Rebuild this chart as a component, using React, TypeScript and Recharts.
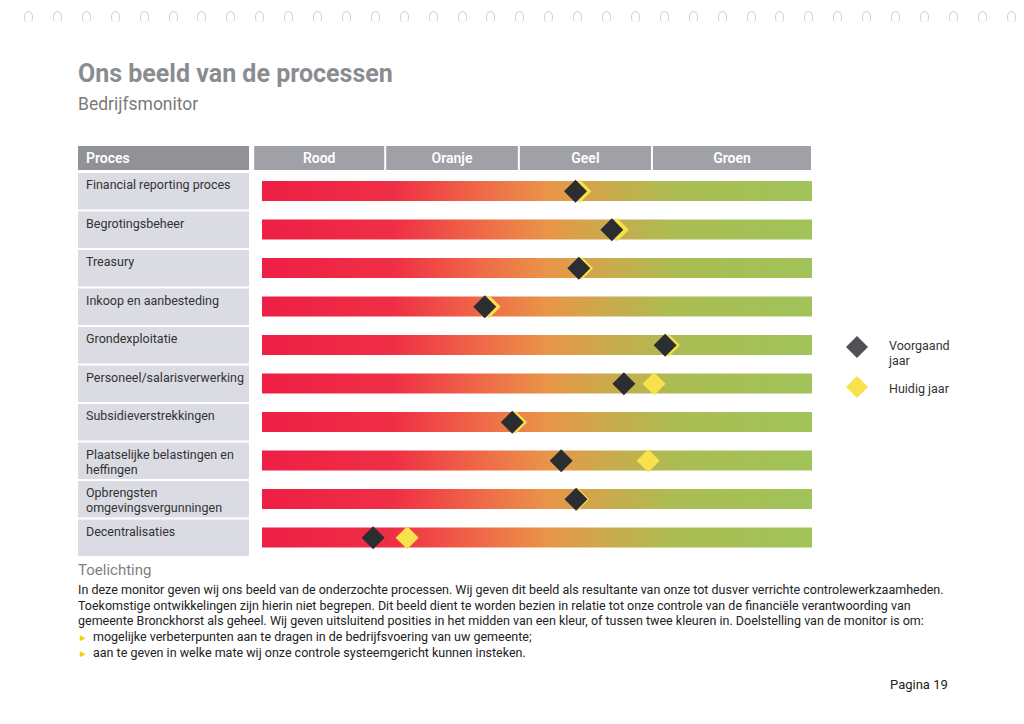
import React from 'react';
import { ComposedChart, Bar, Line, XAxis, YAxis } from 'recharts';

// processen (rijen) en posities op de schaal 0-100
const processen = [
  'Financial reporting proces',
  'Begrotingsbeheer',
  'Treasury',
  'Inkoop en aanbesteding',
  'Grondexploitatie',
  'Personeel/salarisverwerking',
  'Subsidieverstrekkingen',
  'Plaatselijke belastingen en\nheffingen',
  'Opbrengsten\nomgevingsvergunningen',
  'Decentralisaties',
];
const voorgaandJaar = [57, 63.6, 57.6, 40.5, 73.3, 65.8, 45.5, 54.4, 57.1, 20.2];
const huidigJaar = [57.8, 64.6, 58.1, 41.3, 73.9, 71.3, 46.1, 70.2, 57.4, 26.4];
const kleuren = ['Rood', 'Oranje', 'Geel', 'Groen'];
const kleurGrenzen = [-1.6, 22.4, 46.7, 70.9, 100];
const SCHAAL_MAX = 100;

const data = processen.map((proces, i) => ({
  proces,
  bereik: SCHAAL_MAX,
  voorgaand: voorgaandJaar[i],
  huidig: huidigJaar[i],
}));

const kopTicks = kleuren.map((_, i) => (kleurGrenzen[i] + kleurGrenzen[i + 1]) / 2);

const PLOT_W = 550;
const PX = PLOT_W / SCHAAL_MAX;
const ROW_H = 38.5;
const GEEL = '#f8e24b';
const DONKER = '#2c2d31';
const KOP_GRIJS = '#a0a1a7';

const Ruit = ({ cx, cy, fill, r = 11.5 }: any) => {
  if (cx == null || cy == null) return null;
  return (
    <path
      d={`M${cx},${cy - r} L${cx + r},${cy} L${cx},${cy + r} L${cx - r},${cy} Z`}
      fill={fill}
    />
  );
};

const KopTick = ({ x, payload }: any) => {
  const i = kopTicks.indexOf(payload.value);
  const w = (kleurGrenzen[i + 1] - kleurGrenzen[i]) * PX - 2;
  return (
    <g>
      <rect x={x - w / 2} y={3} width={w} height={24} fill={KOP_GRIJS} />
      <text x={x} y={20} textAnchor="middle" fill="#fff" fontSize={14} fontWeight={600}>
        {kleuren[i]}
      </text>
    </g>
  );
};

const ProcesTick = ({ y, payload }: any) => {
  const top = y - ROW_H / 2 + 1;
  const regels = String(payload.value).split('\n');
  return (
    <g>
      <rect x={8} y={top} width={171} height={ROW_H - 2} fill="#dadbe3" />
      {regels.map((r, k) => (
        <text key={k} x={16} y={top + 16 + k * 15} fill="#333" fontSize={12.5}>
          {r}
        </text>
      ))}
    </g>
  );
};

const ProcesKop = ({ viewBox }: any) => (
  <g>
    <rect x={8} y={viewBox.y - 26} width={171} height={24} fill="#909298" />
    <text x={16} y={viewBox.y - 9} fill="#fff" fontSize={14} fontWeight={600}>
      Proces
    </text>
  </g>
);

export default function App() {
  const gaten = Array.from({ length: 35 });
  return (
    <div
      style={{
        position: 'absolute',
        left: 0,
        top: 0,
        width: 1024,
        height: 724,
        background: '#fff',
        overflow: 'hidden',
        fontFamily: 'Roboto, "Liberation Sans", sans-serif',
      }}
    >
      {gaten.map((_, i) => (
        <div
          key={i}
          style={{
            position: 'absolute',
            left: 24 + i * 28.9,
            top: 11,
            width: 7,
            height: 10,
            borderRadius: '50% 50% 40% 40%',
            border: '1.5px solid #d0d0d0',
            borderBottomColor: 'transparent',
          }}
        />
      ))}

      <div style={{ position: 'absolute', left: 78, top: 59, fontSize: 25, lineHeight: '30px', fontWeight: 700, color: '#8b8c90' }}>
        Ons beeld van de processen
      </div>
      <div style={{ position: 'absolute', left: 78, top: 94, fontSize: 17.5, lineHeight: '20px', color: '#7a7a7a' }}>
        Bedrijfsmonitor
      </div>

      <div style={{ position: 'absolute', left: 70, top: 143 }}>
        <ComposedChart
          width={760}
          height={420}
          data={data}
          layout="vertical"
          margin={{ top: 0, right: 18, bottom: 6, left: 0 }}
        >
          <defs>
            <linearGradient id="schaal" x1="0" y1="0" x2="1" y2="0">
              <stop offset="0%" stopColor="#ee1f45" />
              <stop offset="24%" stopColor="#ef2f45" />
              <stop offset="40%" stopColor="#ef6a48" />
              <stop offset="52%" stopColor="#e99548" />
              <stop offset="62%" stopColor="#cda94c" />
              <stop offset="75%" stopColor="#abbd52" />
              <stop offset="100%" stopColor="#a0c35a" />
            </linearGradient>
          </defs>
          <XAxis
            type="number"
            orientation="top"
            domain={[0, SCHAAL_MAX]}
            ticks={kopTicks}
            interval={0}
            height={29}
            axisLine={false}
            tickLine={false}
            tick={<KopTick />}
          />
          <YAxis
            type="category"
            dataKey="proces"
            width={192}
            axisLine={false}
            tickLine={false}
            interval={0}
            tick={<ProcesTick />}
            label={{ content: <ProcesKop /> }}
          />
          <Bar dataKey="bereik" barSize={20} fill="url(#schaal)" isAnimationActive={false} />
          <Line
            dataKey="huidig"
            stroke="none"
            dot={(p: any) => <Ruit key={`h${p.index}`} cx={p.cx} cy={p.cy} fill={GEEL} />}
            activeDot={false}
            isAnimationActive={false}
          />
          <Line
            dataKey="voorgaand"
            stroke="none"
            dot={(p: any) => <Ruit key={`v${p.index}`} cx={p.cx} cy={p.cy} fill={DONKER} />}
            activeDot={false}
            isAnimationActive={false}
          />
        </ComposedChart>
      </div>

      <div style={{ position: 'absolute', left: 844, top: 334, width: 120, height: 70, fontSize: 12.5, color: '#333' }}>
        <svg width={28} height={70} style={{ position: 'absolute', left: 0, top: 0 }}>
          <Ruit cx={13} cy={13} r={11} fill="#505155" />
          <Ruit cx={13} cy={53} r={11} fill={GEEL} />
        </svg>
        <div style={{ position: 'absolute', left: 45, top: 4, lineHeight: '15px' }}>
          Voorgaand
          <br />
          jaar
        </div>
        <div style={{ position: 'absolute', left: 45, top: 47, lineHeight: '15px' }}>Huidig jaar</div>
      </div>

      <div style={{ position: 'absolute', left: 78, top: 561, fontSize: 15, lineHeight: '18px', color: '#808080' }}>
        Toelichting
      </div>
      <div style={{ position: 'absolute', left: 78, top: 582, fontSize: 12.5, lineHeight: '15.5px', color: '#222', whiteSpace: 'nowrap' }}>
        <div>In deze monitor geven wij ons beeld van de onderzochte processen. Wij geven dit beeld als resultante van onze tot dusver verrichte controlewerkzaamheden.</div>
        <div>Toekomstige ontwikkelingen zijn hierin niet begrepen. Dit beeld dient te worden bezien in relatie tot onze controle van de financiële verantwoording van</div>
        <div>gemeente Bronckhorst als geheel. Wij geven uitsluitend posities in het midden van een kleur, of tussen twee kleuren in. Doelstelling van de monitor is om:</div>
        <div>
          <span style={{ color: '#f2d40c', fontSize: 10, display: 'inline-block', width: 15 }}>►</span>
          mogelijke verbeterpunten aan te dragen in de bedrijfsvoering van uw gemeente;
        </div>
        <div>
          <span style={{ color: '#f2d40c', fontSize: 10, display: 'inline-block', width: 15 }}>►</span>
          aan te geven in welke mate wij onze controle systeemgericht kunnen insteken.
        </div>
      </div>

      <div style={{ position: 'absolute', left: 890, top: 677, fontSize: 13, lineHeight: '16px', color: '#222' }}>
        Pagina 19
      </div>
    </div>
  );
}
